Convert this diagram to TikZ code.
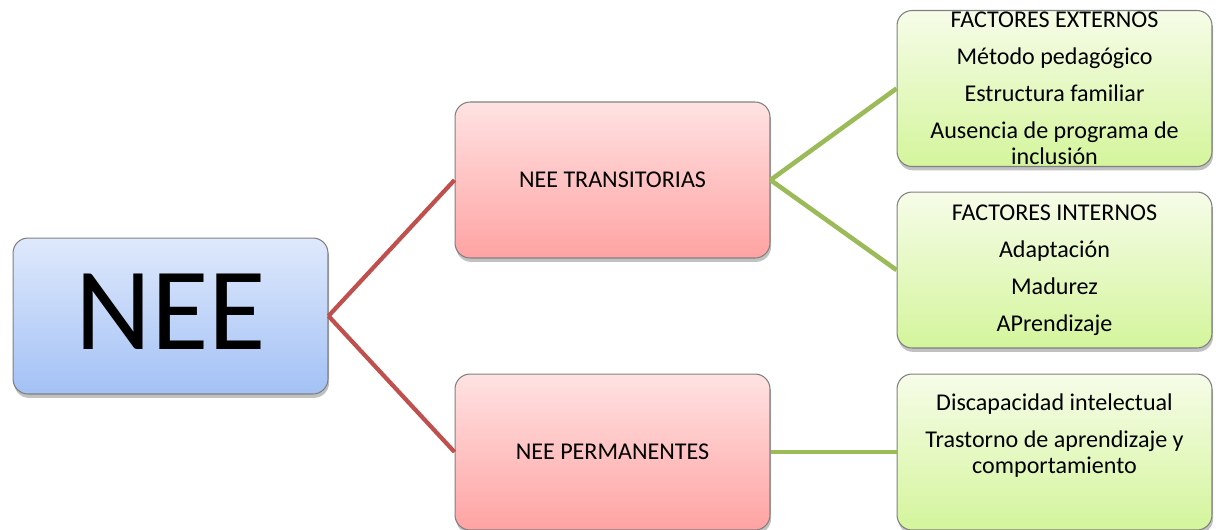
\documentclass[tikz,border=0pt]{standalone}
\usepackage{fontspec}
\setmainfont{Carlito}
\usetikzlibrary{shadows}
\definecolor{bluetop}{HTML}{DFE9FC}
\definecolor{bluebot}{HTML}{A3C1F5}
\definecolor{redtop}{HTML}{FFE2E2}
\definecolor{redbot}{HTML}{FFA3A3}
\definecolor{greentop}{HTML}{F6FCE8}
\definecolor{greenbot}{HTML}{D4F59C}
\definecolor{linered}{HTML}{C0504D}
\definecolor{linegreen}{HTML}{9BBB59}
\begin{document}
\begin{tikzpicture}[x=0.02cm,y=-0.02cm,
  box/.style={draw=black!50, line width=0.6pt, rounded corners=0.3cm,
    minimum width=6.3cm, minimum height=3.12cm, inner sep=0pt,
    drop shadow={shadow xshift=0.6pt, shadow yshift=-2.2pt, opacity=0.35, fill=black!70}},
  bluebox/.style={box, top color=bluetop, bottom color=bluebot},
  redbox/.style={box, top color=redtop, bottom color=redbot},
  greenbox/.style={box, top color=greentop, bottom color=greenbot},
  txt/.style={align=center, font=\fontsize{13.7}{14.9}\selectfont, inner sep=0pt},
  redline/.style={draw=linered, line width=2.4pt},
  greenline/.style={draw=linegreen, line width=2.6pt}]
\useasboundingbox (0,0) rectangle (1216,529);

\node[bluebox] (nee) at (170.5,316) {};
\node[font=\fontsize{67}{67}\selectfont, inner sep=0pt] (neetxt) at (170.5,311.5) {NEE};
\node[redbox, txt] (trans) at (612.5,180) {NEE TRANSITORIAS};
\node[redbox, txt] (perm) at (612.5,452) {NEE PERMANENTES};
\node[greenbox, txt] (ext) at (1054.5,88.5) {FACTORES EXTERNOS\\[6.1pt]Método pedagógico\\[6.1pt]Estructura familiar\\[6.1pt]Ausencia de programa de\\inclusión};
\node[greenbox, txt] (int) at (1054.5,270) {FACTORES INTERNOS\\[6.1pt]Adaptación\\[6.1pt]Madurez\\[6.1pt]APrendizaje};
\node[greenbox] (perb) at (1054.5,452) {};
\node[txt] (perbtxt) at (1054.5,436) {Discapacidad intelectual\\[6.1pt]Trastorno de aprendizaje y\\comportamiento};

\draw[redline] (nee.east) -- (trans.west);
\draw[redline] (nee.east) -- (perm.west);
\draw[greenline] (trans.east) -- (ext.west);
\draw[greenline] (trans.east) -- (int.west);
\draw[greenline] (perm.east) -- (perb.west);
\end{tikzpicture}
\end{document}
